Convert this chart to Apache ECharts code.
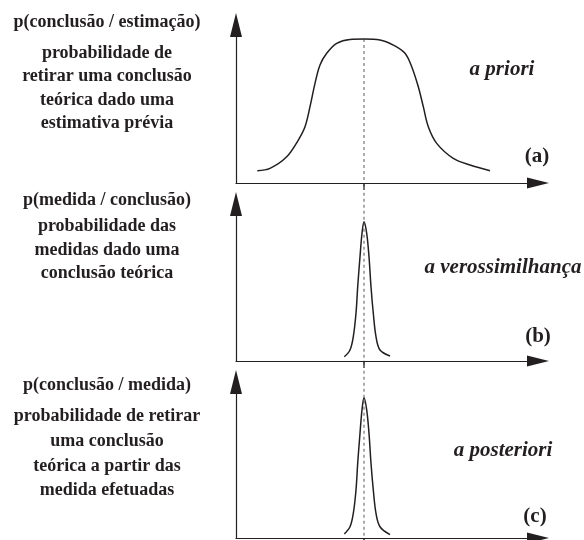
<!DOCTYPE html>
<html>
<head>
<meta charset="utf-8">
<script src="https://cdn.jsdelivr.net/npm/echarts@6/dist/echarts.min.js"></script>
<style>
  html, body { margin: 0; padding: 0; background: #fff; }
  #main { width: 584px; height: 540px; }
</style>
</head>
<body>
<div id="main"></div>
<script>
// (a) a priori
const prioriX = [-10.67, -9.4, -7.73, -6.57, -5.9, -5.4, -4.9, -4.4, -3.73, -2.73, -1.4, 0, 1.6, 2.93, 4.1, 4.77, 5.43, 5.93, 6.43, 7.27, 8.93, 10.6, 12.6]
const prioriY = [7.8, 9.3, 16.6, 27.2, 35.6, 48.3, 63.1, 74.7, 82.1, 88.4, 90.9, 91.1, 90.5, 87.3, 82.1, 73.6, 60.9, 48.3, 35.6, 25.1, 15.6, 11.4, 7.8]
// (b) verossimilhança
const verossX = [-1.97, -1.4, -1.07, -0.8, -0.63, -0.4, -0.2, 0, 0.27, 0.5, 0.7, 0.93, 1.2, 1.6, 2.6]
const verossY = [2.7, 7.0, 15.5, 30.4, 47.3, 66.4, 81.3, 88.7, 81.3, 66.4, 47.3, 30.4, 15.5, 7.0, 3.2]
// (c) a posteriori
const posterX = [-1.97, -1.4, -1.07, -0.8, -0.63, -0.4, -0.2, 0, 0.27, 0.5, 0.7, 0.93, 1.2, 1.6, 2.6]
const posterY = [2.6, 7.2, 15.8, 30.8, 47.9, 67.1, 82.1, 89.9, 82.1, 67.1, 47.9, 30.8, 15.8, 7.2, 2.1]

const centerX = 0
const guideTop = [91.1, 111, 111]

const leftTexts = [
  ['p(conclusão / estimação)', 'probabilidade de', 'retirar uma conclusão', 'teórica dado uma', 'estimativa prévia'],
  ['p(medida / conclusão)', 'probabilidade das', 'medidas dado uma', 'conclusão teórica'],
  ['p(conclusão / medida)', 'probabilidade de retirar', 'uma conclusão', 'teórica a partir das', 'medida efetuadas']
]
const rightTexts = ['a priori', 'a verossimilhança', 'a posteriori']
const panelTags = ['(a)', '(b)', '(c)']

const ink = '#231f20'
const zip = (xs, ys) => xs.map((x, i) => [x, ys[i]])

const grids = [
  { left: 236, top: 25, width: 302, height: 158 },
  { left: 236, top: 204, width: 302, height: 157 },
  { left: 236, top: 382, width: 302, height: 156 }
]

const xAxes = grids.map((g, i) => ({
  type: 'value',
  gridIndex: i,
  min: -12.8,
  max: 17.4,
  axisLine: {
    onZero: false,
    symbol: ['none', 'triangle'],
    symbolSize: [11, 22],
    lineStyle: { color: ink, width: 1.2 }
  },
  axisTick: { show: true, customValues: [centerX], length: 7, lineStyle: { color: ink, width: 1.5 } },
  axisLabel: { show: false },
  splitLine: { show: false }
}))

const yAxes = grids.map((g, i) => ({
  type: 'value',
  gridIndex: i,
  min: 0,
  max: 100,
  axisLine: {
    show: true,
    onZero: false,
    symbol: ['none', 'triangle'],
    symbolSize: [12, 24],
    lineStyle: { color: ink, width: 1.2 }
  },
  axisTick: { show: false },
  axisLabel: { show: false },
  splitLine: { show: false }
}))

const curves = [zip(prioriX, prioriY), zip(verossX, verossY), zip(posterX, posterY)]

const series = []
curves.forEach((data, i) => {
  // dashed guide at the centre
  series.push({
    type: 'line',
    xAxisIndex: i,
    yAxisIndex: i,
    clip: false,
    symbol: 'none',
    silent: true,
    z: 1,
    lineStyle: { color: '#888', width: 1.4, type: [3, 3] },
    data: [[centerX, guideTop[i]], [centerX, 0]]
  })
  series.push({
    type: 'line',
    xAxisIndex: i,
    yAxisIndex: i,
    smooth: 0.35,
    symbol: 'none',
    z: 2,
    lineStyle: { color: ink, width: 1.5 },
    data: data
  })
})

// text positions
const leftLineY = [
  [22, 53, 76, 100, 123],
  [200, 226, 250, 273],
  [385, 416, 441, 466, 490]
]
const rightPos = [[502, 70], [503, 268], [503, 451]]
const tagPos = [[537, 157], [538, 337], [535, 517]]

const graphic = []
leftTexts.forEach((lines, i) => {
  lines.forEach((t, k) => {
    graphic.push({
      type: 'text',
      x: 107,
      y: leftLineY[i][k],
      style: {
        text: t,
        font: 'bold 18px "Liberation Serif", "Times New Roman", serif',
        fill: ink,
        textAlign: 'center',
        textVerticalAlign: 'middle'
      }
    })
  })
  graphic.push({
    type: 'text',
    x: rightPos[i][0],
    y: rightPos[i][1],
    style: {
      text: rightTexts[i],
      font: 'italic bold 21px "Liberation Serif", "Times New Roman", serif',
      fill: ink,
      textAlign: 'center',
      textVerticalAlign: 'middle'
    }
  })
  graphic.push({
    type: 'text',
    x: tagPos[i][0],
    y: tagPos[i][1],
    style: {
      text: panelTags[i],
      font: 'bold 21px "Liberation Serif", "Times New Roman", serif',
      fill: ink,
      textAlign: 'center',
      textVerticalAlign: 'middle'
    }
  })
})

const chart = echarts.init(document.getElementById('main'), null, { renderer: 'canvas' })
chart.setOption({
  backgroundColor: '#fff',
  animation: false,
  grid: grids,
  xAxis: xAxes,
  yAxis: yAxes,
  series: series,
  graphic: graphic
})
</script>
</body>
</html>
